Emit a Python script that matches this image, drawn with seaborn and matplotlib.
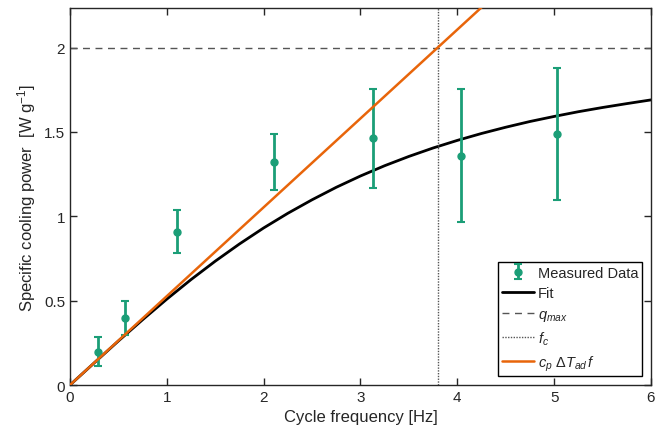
import matplotlib
matplotlib.use("Agg")
import matplotlib.pyplot as plt
import seaborn as sns
import pandas as pd

freq = [0.286, 0.568, 1.11, 2.107, 3.133, 4.036, 5.034]
power = [0.197, 0.397, 0.909, 1.32, 1.463, 1.36, 1.487]
err = [0.086, 0.099, 0.126, 0.166, 0.293, 0.395, 0.39]

# fit curve samples
fit_x = [0, 0.25, 0.5, 0.75, 1, 1.25, 1.5, 1.75, 2, 2.25, 2.5, 2.75, 3,
         3.25, 3.5, 3.75, 4, 4.25, 4.5, 4.75, 5, 5.25, 5.5, 5.75, 6]
fit_y = [0, 0.131, 0.261, 0.387, 0.509, 0.625, 0.734, 0.836, 0.931, 1.018,
         1.098, 1.172, 1.239, 1.300, 1.355, 1.405, 1.450, 1.491, 1.528,
         1.562, 1.592, 1.620, 1.645, 1.668, 1.690]

# linear limit c_p dT_ad f
lin_x = [0, 6]
lin_y = [0, 3.16]

q_max = 2.0
f_c = 3.8

df_meas = pd.DataFrame({"f": freq, "q": power, "err": err})
df_fit = pd.DataFrame({"f": fit_x, "q": fit_y})
df_lin = pd.DataFrame({"f": lin_x, "q": lin_y})

sns.set_style("ticks")
plt.rcParams["font.family"] = ["Liberation Sans", "DejaVu Sans"]
plt.rcParams["mathtext.fontset"] = "custom"
plt.rcParams["mathtext.it"] = "Liberation Sans:italic"
plt.rcParams["mathtext.rm"] = "Liberation Sans"

green = "#1b9e77"
orange = "#e8650a"

fig = plt.figure(figsize=(6.69, 4.35), dpi=100)
ax = fig.add_axes([0.1046, 0.1126, 0.8684, 0.866])

ax.errorbar(df_meas["f"], df_meas["q"], yerr=df_meas["err"], fmt="o",
            color=green, ms=5, elinewidth=2, capsize=3, capthick=1.5,
            label="Measured Data", zorder=3)
sns.lineplot(data=df_fit, x="f", y="q", ax=ax, color="black", lw=2,
             label="Fit", zorder=2)
ax.axhline(q_max, color="#555555", ls=(0, (5, 4)), lw=1, label="$q_{max}$")
ax.axvline(f_c, color="#555555", ls=(0, (1, 1)), lw=1, label="$f_c$")
sns.lineplot(data=df_lin, x="f", y="q", ax=ax, color=orange, lw=1.8,
             label="$c_p\\ \\Delta T_{ad}\\, f$", zorder=4)

ax.set_xlim(0, 6)
ax.set_ylim(0, 2.233)
ax.set_xticks([0, 1, 2, 3, 4, 5, 6])
ax.set_yticks([0, 0.5, 1, 1.5, 2])
ax.set_yticklabels(["0", "0.5", "1", "1.5", "2"])
ax.tick_params(direction="in", top=True, right=True, length=5, width=1,
               labelsize=11, colors="#262626")
for s in ax.spines.values():
    s.set_linewidth(1)
    s.set_color("#262626")

ax.set_xlabel("Cycle frequency [Hz]", fontsize=12, color="#262626")
ax.set_ylabel("Specific cooling power  [W g$^{\\mathrm{-1}}$]", fontsize=12,
              color="#262626")

handles, labels = ax.get_legend_handles_labels()
order = [labels.index(l) for l in ["Measured Data", "Fit", "$q_{max}$",
                                   "$f_c$", "$c_p\\ \\Delta T_{ad}\\, f$"]]
leg = ax.legend([handles[i] for i in order], [labels[i] for i in order],
                loc="lower right", fontsize=10.5, frameon=True, fancybox=False,
                edgecolor="black", framealpha=1, borderpad=0.25,
                labelspacing=0.45, handlelength=2.2, handletextpad=0.3,
                borderaxespad=0.6)
leg.get_frame().set_linewidth(1)

fig.savefig("out.png", dpi=100)
